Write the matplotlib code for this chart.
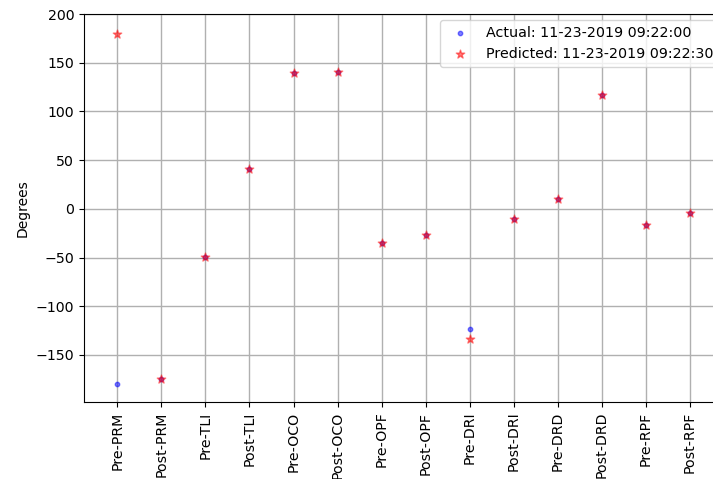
import matplotlib.pyplot as plt

# fases y angulos (grados)
etiquetas = ['Pre-PRM', 'Post-PRM', 'Pre-TLI', 'Post-TLI', 'Pre-OCO', 'Post-OCO',
             'Pre-OPF', 'Post-OPF', 'Pre-DRI', 'Post-DRI', 'Pre-DRD', 'Post-DRD',
             'Pre-RPF', 'Post-RPF']
actual = [-179.5, -174.2, -49, 41.1, 139.6, 140.9, -35.3, -26.7, -123.8, -10.6,
          10.3, 116.6, -16.5, -4.5]
predicho = [179.6, -174.2, -49, 41.1, 139.6, 140.9, -35.3, -26.7, -134, -10.6,
            10.3, 116.6, -16.5, -4.5]

fig = plt.figure(figsize=(7.13, 4.79), dpi=100)
# el eje se sale un poco por la derecha (como en la imagen original)
ax = fig.add_axes([84/713, 1 - 402/479, 650/713, 388/479])

x = range(len(etiquetas))
ax.scatter(x, actual, s=10, c='blue', alpha=0.5, label='Actual: 11-23-2019 09:22:00', zorder=3)
ax.scatter(x, predicho, s=40, c='red', marker='*', alpha=0.5,
           label='Predicted: 11-23-2019 09:22:30', zorder=3)

ax.set_xticks(list(x))
ax.set_xticklabels(etiquetas, rotation=90, fontsize=10.2)
ax.tick_params(axis='y', labelsize=10.2)
ax.set_xlim(-0.756, 14.0)
ax.set_ylim(-198.3, 200)
ax.set_ylabel('Degrees')
ax.grid(True, color='#b0b0b0', linewidth=1)
ax.legend(loc='upper right', bbox_to_anchor=(719/713, 1 - 20/479),
          bbox_transform=fig.transFigure, borderaxespad=0, fontsize=10.3)

fig.savefig('out.png', dpi=100)
